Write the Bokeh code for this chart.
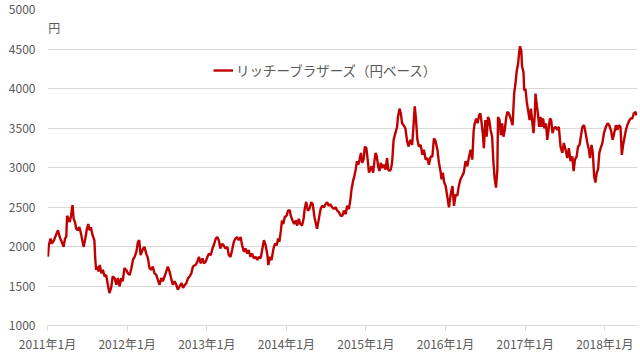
from datetime import datetime
import pandas as pd
from bokeh.plotting import figure
from bokeh.models import Range1d, FixedTicker, DatetimeTickFormatter, Label, ColumnDataSource
from bokeh.embed import file_html
from bokeh.resources import INLINE

series_name = "リッチーブラザーズ（円ベース）"
unit_label = "円"

dates = [
    "2011-01-03","2011-01-07","2011-01-15","2011-01-21","2011-01-31","2011-02-11","2011-02-18","2011-02-26",
    "2011-03-04","2011-03-11","2011-03-16","2011-03-22","2011-03-28","2011-04-01","2011-04-07","2011-04-13",
    "2011-04-19","2011-04-26","2011-05-01","2011-05-07","2011-05-13","2011-05-19","2011-05-27","2011-06-04",
    "2011-06-11","2011-06-16","2011-06-22","2011-07-01","2011-07-07","2011-07-13","2011-07-19","2011-07-27",
    "2011-08-04","2011-08-08","2011-08-12","2011-08-17","2011-08-23","2011-08-29","2011-09-05","2011-09-12",
    "2011-09-20","2011-09-27","2011-10-05","2011-10-12","2011-10-20","2011-10-27","2011-11-05","2011-11-13",
    "2011-11-20","2011-11-28","2011-12-05","2011-12-12","2011-12-20","2011-12-28",
    "2012-01-05","2012-01-13","2012-01-21","2012-01-28","2012-02-05","2012-02-13","2012-02-20","2012-02-26",
    "2012-03-03","2012-03-09","2012-03-15","2012-03-21","2012-03-29","2012-04-06","2012-04-13","2012-04-21",
    "2012-04-28","2012-05-06","2012-05-14","2012-05-21","2012-05-29","2012-06-06","2012-06-13","2012-06-21",
    "2012-06-29","2012-07-06","2012-07-14","2012-07-21","2012-07-29","2012-08-06","2012-08-14","2012-08-21",
    "2012-08-29","2012-09-07","2012-09-14","2012-09-22","2012-09-29","2012-10-07","2012-10-14","2012-10-22",
    "2012-10-29","2012-11-07","2012-11-11","2012-11-19","2012-11-26","2012-12-04","2012-12-12","2012-12-19",
    "2012-12-27",
    "2013-01-04","2013-01-11","2013-01-19","2013-01-27","2013-02-04","2013-02-11","2013-02-18","2013-02-25",
    "2013-03-04","2013-03-12","2013-03-19","2013-03-27","2013-04-05","2013-04-12","2013-04-20","2013-04-27",
    "2013-05-05","2013-05-12","2013-05-20","2013-05-27","2013-06-05","2013-06-12","2013-06-20","2013-06-27",
    "2013-07-05","2013-07-12","2013-07-20","2013-07-28","2013-08-05","2013-08-13","2013-08-21","2013-08-28",
    "2013-09-05","2013-09-13","2013-09-20","2013-09-28","2013-10-06","2013-10-10","2013-10-18","2013-10-25",
    "2013-11-03","2013-11-10","2013-11-18","2013-11-24","2013-11-30","2013-12-06","2013-12-12","2013-12-18",
    "2013-12-24",
    "2014-01-02","2014-01-09","2014-01-17","2014-01-21","2014-01-29","2014-02-06","2014-02-13","2014-02-20",
    "2014-02-27","2014-03-06","2014-03-14","2014-03-21","2014-03-26","2014-04-02","2014-04-09","2014-04-17",
    "2014-04-25","2014-05-02","2014-05-10","2014-05-18","2014-05-22","2014-05-30","2014-06-07","2014-06-14",
    "2014-06-22","2014-06-29","2014-07-07","2014-07-14","2014-07-22","2014-07-30","2014-08-07","2014-08-15",
    "2014-08-22","2014-08-30","2014-09-07","2014-09-15","2014-09-22","2014-09-30","2014-10-07","2014-10-15",
    "2014-10-22","2014-10-27","2014-11-03","2014-11-09","2014-11-15","2014-11-21","2014-11-27","2014-12-03",
    "2014-12-09","2014-12-15","2014-12-21","2014-12-27",
    "2015-01-03","2015-01-09","2015-01-15","2015-01-21","2015-01-27","2015-02-03","2015-02-09","2015-02-14",
    "2015-02-20","2015-02-26","2015-03-04","2015-03-10","2015-03-16","2015-03-23","2015-04-01","2015-04-08",
    "2015-04-13","2015-04-19","2015-04-25","2015-05-01","2015-05-08","2015-05-16","2015-05-24","2015-05-28",
    "2015-06-04","2015-06-10","2015-06-16","2015-06-23","2015-07-01","2015-07-09","2015-07-16","2015-07-24",
    "2015-08-01","2015-08-07","2015-08-13","2015-08-19","2015-08-25","2015-09-01","2015-09-09","2015-09-17",
    "2015-09-24","2015-10-02","2015-10-10","2015-10-17","2015-10-25","2015-11-02","2015-11-09","2015-11-17",
    "2015-11-25","2015-12-02","2015-12-09","2015-12-14","2015-12-20","2015-12-26",
    "2016-01-02","2016-01-10","2016-01-17","2016-01-25","2016-02-02","2016-02-09","2016-02-17","2016-02-24",
    "2016-03-02","2016-03-10","2016-03-17","2016-03-25","2016-04-02","2016-04-10","2016-04-17","2016-04-25",
    "2016-05-03","2016-05-09","2016-05-14","2016-05-21","2016-05-27","2016-06-03","2016-06-09","2016-06-15",
    "2016-06-21","2016-06-25","2016-07-02","2016-07-08","2016-07-14","2016-07-20","2016-07-26","2016-08-02",
    "2016-08-08","2016-08-14","2016-08-20","2016-08-26","2016-08-29","2016-09-05","2016-09-11","2016-09-17",
    "2016-09-23","2016-09-29","2016-10-05","2016-10-11","2016-10-18","2016-10-26","2016-11-04","2016-11-11",
    "2016-11-17","2016-11-23","2016-11-29","2016-12-04","2016-12-08","2016-12-14","2016-12-17","2016-12-24",
    "2016-12-27",
    "2017-01-02","2017-01-08","2017-01-14","2017-01-21","2017-01-27","2017-02-02","2017-02-08","2017-02-14",
    "2017-02-17","2017-02-22","2017-02-28","2017-03-06","2017-03-12","2017-03-18","2017-03-24","2017-03-30",
    "2017-04-06","2017-04-12","2017-04-18","2017-04-24","2017-04-30","2017-05-06","2017-05-12","2017-05-20",
    "2017-05-27","2017-06-04","2017-06-12","2017-06-20","2017-06-27","2017-07-05","2017-07-13","2017-07-20",
    "2017-07-28","2017-08-05","2017-08-11","2017-08-17","2017-08-25","2017-08-31","2017-09-07","2017-09-13",
    "2017-09-20","2017-09-28","2017-10-05","2017-10-13","2017-10-20","2017-10-25","2017-11-01","2017-11-07",
    "2017-11-13","2017-11-19","2017-11-25","2017-12-01","2017-12-07","2017-12-13","2017-12-21","2017-12-28",
    "2018-01-06","2018-01-14","2018-01-21","2018-01-29","2018-02-06","2018-02-13","2018-02-21","2018-02-28",
    "2018-03-06","2018-03-14","2018-03-20","2018-03-26","2018-04-02","2018-04-08","2018-04-14","2018-04-21",
    "2018-04-29","2018-05-07","2018-05-14","2018-05-22","2018-05-26",
]

prices = [
    1870,2015,2100,2035,2080,2160,2205,2120,
    2080,2035,1995,2100,2120,2390,2350,2310,
    2390,2525,2350,2310,2225,2205,2245,2160,
    2060,1995,2080,2225,2285,2205,2245,2140,
    2080,1850,1705,1745,1685,1765,1660,1705,
    1620,1640,1515,1410,1475,1620,1600,1515,
    1600,1495,1600,1560,1725,1705,
    1660,1640,1725,1830,1870,1935,2060,2080,
    1890,1935,1975,1995,1910,1850,1725,1705,
    1745,1660,1640,1580,1515,1600,1560,1620,
    1685,1745,1685,1600,1515,1560,1515,1455,
    1495,1535,1475,1515,1535,1600,1620,1660,
    1745,1765,1765,1810,1870,1785,1850,1785,
    1810,
    1870,1910,1890,1975,2035,2100,2120,2080,
    1975,2035,2015,1975,1995,1890,1870,1955,
    2060,2100,2120,2080,2120,2015,1935,1975,
    1910,1955,1870,1910,1850,1870,1830,1870,
    1850,1975,2080,2015,1890,1765,1870,1830,
    1975,2035,2015,2100,2060,2185,2330,2285,
    2370,
    2390,2455,2455,2390,2330,2285,2330,2265,
    2350,2285,2265,2350,2475,2565,2455,2475,
    2560,2535,2370,2265,2225,2350,2475,2515,
    2495,2535,2560,2515,2535,2495,2475,2495,
    2455,2435,2390,2390,2455,2410,2515,2475,
    2600,2725,2830,2890,2975,3080,3035,3100,
    3185,3060,3100,3265,
    3245,3100,2935,2975,3015,2935,3080,3185,
    3140,3015,2955,3060,2995,3035,2975,3120,
    2975,2955,2975,3060,3350,3435,3515,3640,
    3745,3685,3560,3535,3495,3330,3265,3350,
    3285,3515,3775,3600,3350,3265,3285,3160,
    3225,3100,3120,3035,3140,3140,3370,3330,
    3225,3060,2955,2850,2935,2810,
    2765,2620,2495,2660,2765,2515,2660,2640,
    2765,2850,2890,2935,3080,3015,3120,3225,
    3100,3455,3560,3620,3560,3660,3685,3560,
    3410,3245,3600,3390,3640,3600,3475,3390,
    3060,2850,2745,2975,3640,3600,3410,3560,
    3390,3475,3620,3705,3685,3620,3535,3935,
    4060,4225,4310,4455,4535,4475,4285,4205,
    3975,
    3995,3830,3725,3600,3745,3580,3435,3685,
    3935,3810,3685,3515,3640,3515,3620,3495,
    3560,3350,3475,3620,3600,3435,3495,3515,
    3475,3515,3265,3185,3310,3225,3120,3245,
    3080,3140,2955,3100,3140,3265,3285,3390,
    3515,3535,3435,3310,3225,3120,3285,3185,
    2890,2810,2935,2975,3185,3245,3310,3435,
    3515,3560,3535,3475,3350,3435,3535,3475,
    3535,3515,3160,3285,3390,3475,3535,3580,
    3620,3620,3685,3705,3660,
]

y_ticks = [1000, 1500, 2000, 2500, 3000, 3500, 4000, 4500, 5000]
tick_years = [2011, 2012, 2013, 2014, 2015, 2016, 2017, 2018]

FONT = "Noto Sans CJK JP"
TEXT_COLOR = "#595959"
GRID_COLOR = "#d9d9d9"

source = ColumnDataSource(dict(date=pd.to_datetime(dates), price=prices))

p = figure(
    width=640, height=354,
    x_axis_type="datetime",
    x_range=Range1d(datetime(2011, 1, 1), datetime(2018, 5, 31)),
    y_range=Range1d(1000, 5000),
    output_backend="svg", toolbar_location=None,
    min_border_left=47, min_border_right=3, min_border_top=9, min_border_bottom=26,
)
p.outline_line_color = None
p.background_fill_color = "white"
p.border_fill_color = "white"

p.line("date", "price", source=source, line_color="#c00000", line_width=2.4,
       legend_label=series_name)

# x axis
xa = p.xaxis[0]
xa.ticker = FixedTicker(ticks=[pd.Timestamp(year=y, month=1, day=1).value / 1e6 for y in tick_years])
fmt = "%Y年%-m月"
xa.formatter = DatetimeTickFormatter(years=fmt, months=fmt, days=fmt, hours=fmt, minutes=fmt,
                                     seconds=fmt, milliseconds=fmt, microseconds=fmt,
                                     minsec=fmt, hourmin=fmt)
xa.axis_line_color = GRID_COLOR
xa.major_tick_line_color = GRID_COLOR
xa.major_tick_in = 0
xa.major_tick_out = 5
xa.minor_tick_line_color = None
xa.major_label_text_font = FONT
xa.major_label_text_font_size = "12px"
xa.major_label_text_color = TEXT_COLOR
xa.major_label_standoff = 4

# y axis
ya = p.yaxis[0]
ya.ticker = FixedTicker(ticks=y_ticks)
ya.axis_line_color = None
ya.major_tick_line_color = None
ya.minor_tick_line_color = None
ya.major_tick_in = 0
ya.major_tick_out = 0
ya.major_label_standoff = 12
ya.major_label_text_font = FONT
ya.major_label_text_font_size = "12px"
ya.major_label_text_color = TEXT_COLOR

p.xgrid.grid_line_color = None
p.ygrid.grid_line_color = GRID_COLOR
p.ygrid.grid_line_width = 1

p.add_layout(Label(x=datetime(2011, 1, 4), y=4770, text=unit_label, text_font=FONT,
                   text_font_size="12px", text_color=TEXT_COLOR, text_baseline="middle"))

lg = p.legend[0]
lg.location = (166, 245)
lg.border_line_color = None
lg.background_fill_alpha = 0
lg.padding = 0
lg.margin = 0
lg.glyph_width = 20
lg.label_standoff = 3
lg.label_text_font = FONT
lg.label_text_font_size = "13.5px"
lg.label_text_color = TEXT_COLOR

open("out.html", "w").write(file_html(p, INLINE))
